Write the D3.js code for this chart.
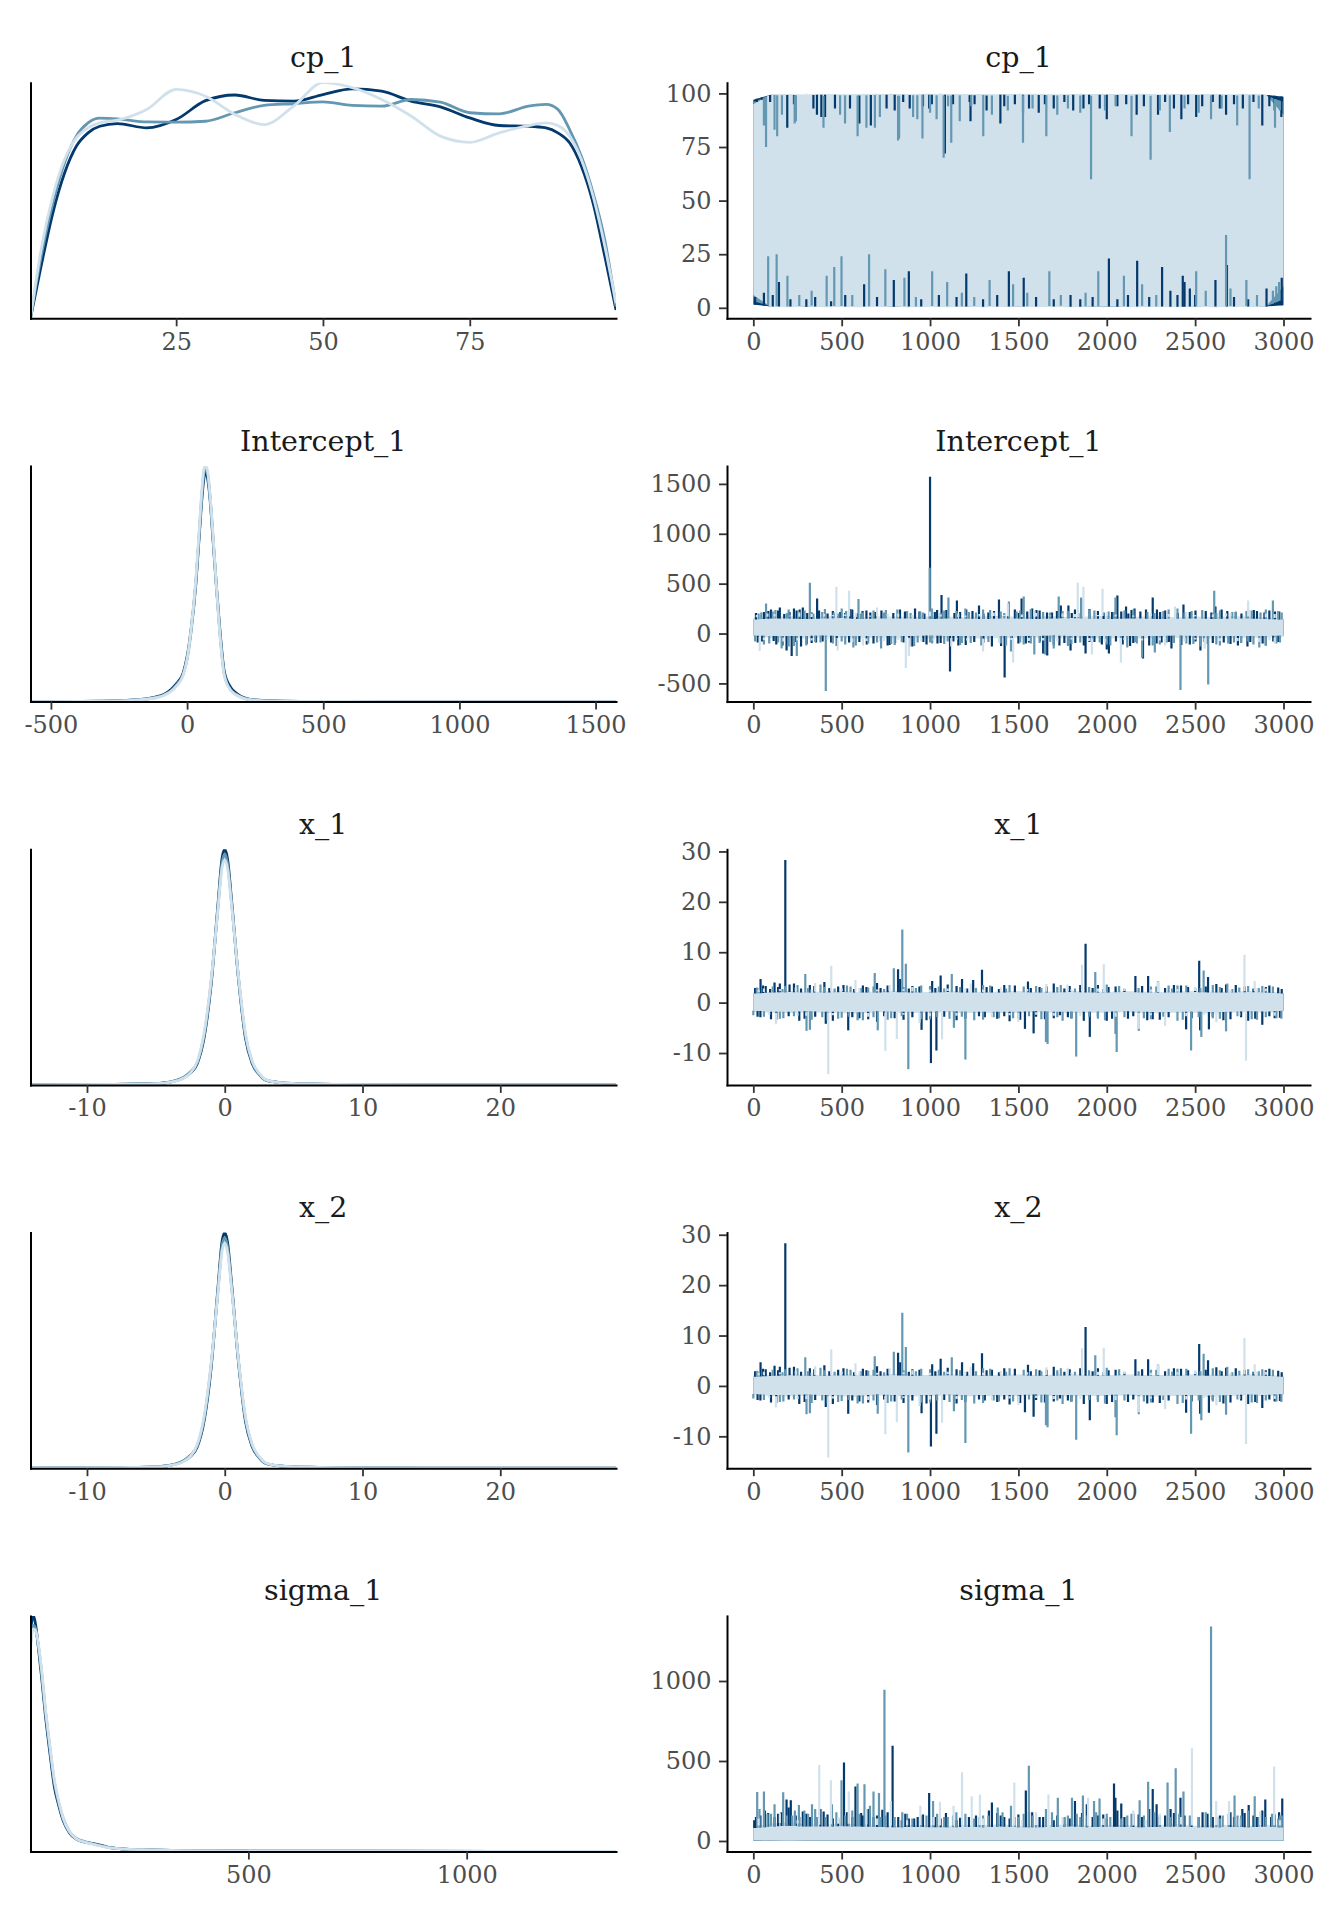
<!DOCTYPE html>
<html>
<head>
<meta charset="utf-8">
<script src="https://cdn.jsdelivr.net/npm/d3@7"></script>
<style>
  body { margin: 0; background: #ffffff; }
  svg { display: block; }
  text { font-family: 'DejaVu Serif', serif; }
</style>
</head>
<body>
<svg id="chart" width="1344" height="1920"></svg>
<script>
// ---------------- DATA ----------------
const params = ["cp_1", "Intercept_1", "x_1", "x_2", "sigma_1"];
const chainNames = ["chain 1", "chain 2", "chain 3"];

// iteration grid for the trace envelopes
const iters = [0,100,200,300,400,500,600,700,800,900,1000,1100,1200,1300,1400,1500,1600,1700,1800,1900,2000,2100,2200,2300,2400,2500,2600,2700,2800,2900,3000];
const traceTicksX = [0, 500, 1000, 1500, 2000, 2500, 3000];

// density tick labels
const densTicks_cp1 = [25, 50, 75];
const densTicks_int = [-500, 0, 500, 1000, 1500];
const densTicks_x = [-10, 0, 10, 20];
const densTicks_sigma = [500, 1000];
// trace y tick labels
const traceTicks_cp1 = [0, 25, 50, 75, 100];
const traceTicks_int = [-500, 0, 500, 1000, 1500];
const traceTicks_x = [-10, 0, 10, 20, 30];
const traceTicks_sigma = [0, 500, 1000];

// ---- densities (relative density, per chain: dark, mid, light) ----
const cp1Grid = [0.2,2,4,6,8,10,12,15,20,25,30,35,40,45,50,55,60,65,70,75,80,85,88,90,92,94,96,98,99.9];
const cp1DensDark  = [0,0.22,0.445,0.614,0.727,0.784,0.812,0.823,0.805,0.84,0.92,0.944,0.921,0.918,0.946,0.970,0.960,0.918,0.894,0.847,0.815,0.812,0.805,0.784,0.742,0.643,0.487,0.261,0.035];
const cp1DensMid   = [0,0.26,0.487,0.657,0.77,0.826,0.846,0.843,0.830,0.829,0.833,0.869,0.9,0.907,0.915,0.9,0.897,0.925,0.914,0.869,0.864,0.897,0.904,0.883,0.798,0.685,0.53,0.33,0.05];
const cp1DensLight = [0,0.29,0.516,0.671,0.763,0.805,0.826,0.838,0.883,0.968,0.939,0.862,0.819,0.897,0.996,0.975,0.925,0.855,0.770,0.744,0.784,0.815,0.826,0.815,0.770,0.671,0.516,0.304,0.064];

const intGrid = [-575,-400,-250,-150,-100,-86,-60,-40,-15,0,15,32,45,55,62,68,75,85,95,107,120,137,160,181,210,250,320,450,700,1575];
const intDensDark  = [0,0.001,0.004,0.012,0.024,0.03,0.05,0.075,0.12,0.19,0.31,0.5,0.71,0.87,0.95,0.975,0.95,0.85,0.69,0.5,0.31,0.125,0.06,0.035,0.016,0.007,0.003,0.001,0.0004,0];
const intDensMid   = [0,0.001,0.004,0.011,0.022,0.028,0.045,0.07,0.114,0.18,0.30,0.5,0.72,0.89,0.97,0.99,0.97,0.86,0.70,0.5,0.30,0.114,0.05,0.03,0.014,0.006,0.003,0.001,0.0004,0];
const intDensLight = [0,0.001,0.003,0.01,0.02,0.026,0.042,0.065,0.11,0.18,0.31,0.52,0.74,0.91,0.99,1.0,0.98,0.87,0.71,0.5,0.29,0.11,0.048,0.028,0.013,0.006,0.002,0.001,0.0003,0];

const xGrid = [-14.1,-8,-5,-4,-3,-2.5,-2,-1.5,-1,-0.5,-0.2,0,0.2,0.5,1,1.5,2,2.5,3,4,6,10,15,28.4];
const xDensDark  = [0,0.002,0.006,0.012,0.03,0.05,0.09,0.2,0.42,0.76,0.96,1.0,0.96,0.78,0.45,0.2,0.09,0.045,0.02,0.01,0.004,0.001,0.0005,0];
const xDensMid   = [0,0.002,0.006,0.012,0.032,0.055,0.095,0.21,0.43,0.75,0.94,0.98,0.94,0.77,0.45,0.21,0.095,0.045,0.02,0.01,0.004,0.001,0.0005,0];
const xDensLight = [0,0.002,0.005,0.011,0.028,0.05,0.1,0.22,0.44,0.74,0.92,0.955,0.92,0.76,0.46,0.22,0.1,0.05,0.022,0.01,0.004,0.001,0.0005,0];

const sGrid = [1,5,8,12,20,27,35,42,50,56,65,76,90,105,125,145,165,184,220,273,350,500,800,1342];
const sDensDark  = [0.93,0.99,1.0,0.97,0.85,0.73,0.58,0.47,0.35,0.27,0.2,0.13,0.08,0.054,0.04,0.033,0.025,0.016,0.01,0.007,0.004,0.002,0.001,0.0005];
const sDensMid   = [0.88,0.95,0.96,0.95,0.86,0.75,0.6,0.49,0.37,0.29,0.21,0.14,0.085,0.057,0.042,0.032,0.024,0.016,0.01,0.007,0.004,0.002,0.001,0.0005];
const sDensLight = [0.86,0.93,0.945,0.94,0.87,0.76,0.61,0.5,0.38,0.3,0.22,0.14,0.085,0.055,0.04,0.03,0.022,0.015,0.01,0.007,0.004,0.002,0.001,0.0005];

// ---- traces: per-chain core envelope (hi / lo every 100 iterations) + excursions [iteration, value] ----
// cp_1
const cpDarkHi  = [97,99.4,99.3,99.2,99.4,99.3,99.0,99.4,99.4,99.3,99.4,99.4,99.2,99.0,99.4,99.4,99.3,99.1,99.4,99.4,99.4,99.2,99.4,99.3,99.4,99.3,99.4,99.2,99.4,99.3,98.5];
const cpDarkLo  = [1.5,0.6,0.6,0.5,0.8,0.6,0.6,0.7,0.5,0.6,0.6,0.6,0.6,0.5,0.7,0.6,0.6,0.6,0.5,0.6,0.6,0.5,0.6,0.6,0.5,0.6,0.6,0.6,0.6,0.6,1.2];
const cpMidHi   = [96,99.3,99.0,99.3,98.8,99.2,99.0,99.3,98.9,99.1,99.3,99.0,99.2,99.3,98.8,99.1,99.3,99.0,99.2,98.9,99.3,99.1,98.7,99.2,99.0,99.3,99.1,98.9,99.2,99.0,96];
const cpMidLo   = [3,0.8,0.6,1.0,0.7,0.9,0.6,0.8,1.0,0.6,0.9,0.7,0.8,1.0,0.6,0.8,0.7,0.9,1.0,0.6,0.8,0.7,0.9,0.6,0.8,1.0,0.7,0.9,0.8,0.6,4];
const cpLightHi = [95,99.6,99.7,99.5,99.7,99.6,99.7,99.8,99.5,99.7,99.8,99.6,99.7,99.7,99.5,99.7,99.8,99.6,99.7,99.7,99.6,99.7,99.8,99.6,99.5,99.7,99.7,99.6,99.7,99.6,90];
const cpLightLo = [6,0.4,0.3,0.5,0.3,0.4,0.3,0.4,0.5,0.3,0.4,0.3,0.5,0.3,0.4,0.5,0.3,0.4,0.3,0.5,0.6,0.4,0.3,0.4,0.3,0.5,0.3,0.4,0.4,0.5,10];
const cpDarkSp  = [[20,96],[48,97],[95,96],[192,84],[230,95],[340,93],[360,90],[385,89],[406,89],[462,93],[547,93],[600,86],[665,85],[754,93],[800,92],[848,96],[885,93],[960,94],[995,93],[1010,95],[1084,72],[1130,95],[1224,96],[1229,87],[1252,95],[1320,92],[1398,86],[1420,94],[1480,95],[1526,91],[1560,93],[1615,91],[1650,95],[1700,93],[1760,96],[1810,92],[1868,93],[1900,95],[1960,93],[2000,88],[2060,94],[2110,95],[2169,90],[2210,94],[2290,90],[2330,96],[2380,93],[2422,88],[2460,95],[2506,89],[2540,94],[2600,96],[2640,93],[2675,90],[2720,95],[2770,93],[2830,96],[2880,85],[2920,94],[2950,92],[2988,89],
  [10,5],[60,7],[110,6],[145,12],[210,4],[300,4],[350,5],[440,3],[520,6],[627,11],[700,5],[795,13],[880,17],[950,4],[1050,6],[1150,5],[1205,16],[1300,4],[1380,6],[1446,17],[1530,14],[1600,5],[1700,4],[1795,6],[1850,4],[1920,5],[2012,23],[2060,4],[2120,6],[2172,22],[2240,5],[2313,19],[2360,8],[2400,6],[2430,15],[2440,12],[2470,9],[2500,6],[2615,13],[2680,20],[2720,5],[2800,4],[2904,9],[2990,14]];
const cpMidSp   = [[60,85],[72,75],[120,83],[135,80],[162,90],[234,86],[241,87],[397,84],[491,90],[519,86],[590,80],[640,84],[688,84],[716,89],[819,78],[825,79],[904,89],[928,88],[957,79],[1000,91],[1037,88],[1077,70],[1102,94],[1120,77],[1168,87],[1233,94],[1301,80],[1350,90],[1440,92],[1526,77],[1580,93],[1658,80],[1720,90],[1780,93],[1850,91],[1911,60],[1990,92],[2050,94],[2140,80],[2248,69],[2300,92],[2357,82],[2440,93],[2520,91],[2590,88],[2650,93],[2738,85],[2808,60],[2860,93],[2952,84],[2980,92],
  [84,24],[132,25],[193,15],[260,6],[330,8],[415,15],[458,19],[499,24],[560,6],[655,25],[747,18],[855,14],[920,5],[1012,17],[1097,12],[1180,7],[1250,5],[1337,13],[1470,11],[1550,7],[1675,17],[1740,6],[1880,7],[1952,17],[2097,15],[2200,11],[2280,6],[2506,17],[2560,8],[2675,34],[2700,9],[2790,13],[2850,6],[2940,8],[2959,10],[2975,12]];
const cpLightSp = [[300,100],[780,99.9],[1060,100],[1510,99.9],[1850,100],[2340,99.9],[2770,100],[410,0.1],[870,0.2],[1300,0.1],[1980,0.2],[2620,0.1]];

// Intercept_1
const intDarkHi  = [140,150,150,145,150,155,145,150,150,150,145,150,150,145,150,150,145,150,155,150,145,150,150,145,150,150,145,150,150,145,140];
const intDarkLo  = [-20,-25,-25,-25,-20,-25,-25,-25,-25,-25,-20,-25,-25,-25,-25,-25,-25,-20,-25,-25,-25,-25,-25,-25,-20,-25,-25,-25,-25,-25,-20];
const intMidHi   = [140,150,150,145,150,155,145,150,150,150,145,150,150,145,150,150,145,150,155,150,145,150,150,145,150,150,145,150,150,145,140];
const intMidLo   = [-20,-25,-25,-25,-20,-25,-25,-25,-25,-25,-20,-25,-25,-25,-25,-25,-25,-20,-25,-25,-25,-25,-25,-25,-20,-25,-25,-25,-25,-25,-20];
const intLightHi = [160,170,172,165,170,178,162,172,170,165,174,170,162,172,178,165,170,174,162,170,178,165,170,174,162,170,165,174,170,162,150];
const intLightLo = [-30,-45,-42,-50,-40,-46,-52,-42,-46,-40,-50,-43,-46,-52,-43,-46,-40,-50,-43,-46,-52,-43,-50,-40,-46,-43,-50,-46,-43,-46,-35];
const intDarkSp  = [[100,240],[150,260],[188,-170],[217,-225],[245,230],[355,-90],[361,350],[560,240],[771,-115],[900,-130],[1000,1572],[1065,385],[1113,-380],[1152,330],[1277,280],[1390,340],[1422,-440],[1518,350],[1578,250],[1640,-200],[1663,-220],[1740,280],[1783,280],[1795,-170],[1855,350],[1880,-200],[2000,-160],[2012,-200],[2060,380],[2109,270],[2157,250],[2205,-250],[2260,360],[2284,240],[2366,-150],[2434,290],[2530,-170],[2615,270],[2796,-130],[2976,220],
  [60,215],[140,230],[230,250],[280,260],[330,210],[450,225],[520,205],[640,230],[690,215],[830,240],[940,220],[1040,235],[1170,215],[1240,225],[1330,210],[1480,240],[1550,220],[1620,230],[1690,210],[1820,240],[1950,225],[2030,215],[2140,235],[2190,220],[2330,230],[2470,215],[2560,225],[2650,240],[2730,215],[2850,225],[2920,230],
  [50,-80],[130,-110],[270,-130],[330,-95],[440,-90],[600,-85],[680,-100],[760,-120],[850,-90],[980,-110],[1060,-95],[1160,-120],[1250,-85],[1350,-130],[1500,-100],[1560,-90],[1700,-115],[1760,-95],[1870,-120],[1930,-85],[2090,-110],[2150,-95],[2240,-120],[2310,-90],[2470,-110],[2600,-95],[2700,-105],[2760,-90],[2900,-120],[2970,-85],
  [15,205],[85,225],[175,195],[205,215],[262,240],[305,205],[372,230],[420,200],[492,215],[548,245],[588,200],[618,225],[662,210],[725,230],[792,205],[858,220],[915,250],[968,200],[1027,215],[1092,235],[1138,205],[1205,240],[1302,200],[1362,225],[1442,215],[1503,205],[1602,235],[1662,210],[1718,225],[1802,205],[1902,245],[1982,210],[2082,220],[2122,200],[2222,240],[2302,215],[2402,205],[2502,230],[2592,210],[2682,225],[2762,200],[2832,235],[2892,210],[2952,220],
  [25,-90],[115,-75],[165,-120],[240,-85],[302,-105],[392,-80],[472,-125],[542,-90],[642,-110],[722,-80],[802,-95],[882,-130],[962,-85],[1042,-100],[1132,-80],[1202,-115],[1302,-90],[1402,-125],[1462,-85],[1542,-100],[1622,-80],[1732,-120],[1822,-95],[1902,-85],[1972,-110],[2052,-80],[2132,-125],[2202,-90],[2282,-100],[2352,-85],[2422,-115],[2502,-80],[2572,-105],[2662,-90],[2742,-120],[2812,-85],[2882,-100],[2942,-80]];
const intMidSp   = [[72,300],[160,-150],[246,-225],[320,510],[410,-575],[480,200],[566,-140],[595,345],[723,-150],[998,660],[1012,-100],[1104,360],[1200,250],[1446,320],[1458,-180],[1530,370],[1590,-210],[1650,-210],[1700,-150],[1728,370],[1855,360],[2049,360],[2116,-140],[2200,-240],[2272,-190],[2400,250],[2417,-565],[2530,-130],[2574,-510],[2608,430],[2687,-100],[2820,230],[2863,-140],[2940,330],
  [30,200],[110,220],[200,240],[290,230],[390,215],[500,250],[620,210],[750,235],[870,225],[960,210],[1080,230],[1220,215],[1300,240],[1400,220],[1510,230],[1640,215],[1780,225],[1900,240],[2010,220],[2100,230],[2230,215],[2350,240],[2480,225],[2640,230],[2710,215],[2790,225],[2900,240],[2990,210],
  [90,-100],[200,-130],[300,-120],[380,-90],[520,-110],[650,-100],[800,-115],[930,-90],[1080,-105],[1180,-95],[1290,-120],[1400,-100],[1530,-110],[1620,-95],[1800,-105],[1960,-90],[2020,-120],[2170,-100],[2300,-110],[2380,-95],[2490,-105],[2640,-120],[2760,-95],[2830,-110],[2960,-100],
  [45,210],[125,235],[190,205],[255,220],[340,200],[405,245],[455,210],[525,225],[610,200],[680,230],[740,210],[815,240],[890,205],[945,220],[1010,250],[1060,205],[1150,225],[1260,210],[1340,235],[1420,205],[1490,220],[1570,245],[1680,210],[1750,225],[1840,205],[1930,230],[2040,215],[2150,240],[2270,205],[2320,225],[2440,210],[2540,235],[2620,205],[2730,220],[2800,240],[2870,210],[2970,225],
  [10,-80],[60,-110],[140,-90],[230,-125],[350,-85],[450,-100],[500,-80],[580,-120],[700,-90],[780,-105],[840,-85],[910,-125],[1000,-90],[1100,-80],[1170,-115],[1230,-95],[1330,-85],[1430,-120],[1510,-90],[1570,-100],[1680,-85],[1780,-125],[1850,-90],[1920,-80],[2000,-110],[2080,-95],[2160,-85],[2260,-120],[2340,-90],[2450,-100],[2550,-85],[2620,-110],[2720,-90],[2800,-80],[2900,-115],[2980,-90]];
const intLightSp = [[36,-175],[470,470],[477,-170],[542,430],[620,-120],[700,260],[863,-345],[880,-225],[1120,-130],[1300,-180],[1440,300],[1470,-290],[1590,230],[1836,510],[1868,470],[1916,-210],[1976,450],[2080,-290],[2330,-120],[2386,270],[2554,-150],[2675,200],[2800,330],[2950,-100],
  [80,200],[260,210],[400,195],[580,205],[820,200],[1000,220],[1160,200],[1360,210],[1600,205],[1750,200],[2000,210],[2250,200],[2450,215],[2700,205],[2900,200],
  [170,-80],[330,-70],[560,-85],[740,-75],[950,-80],[1210,-70],[1390,-90],[1560,-75],[1720,-80],[1990,-85],[2200,-70],[2440,-80],[2640,-75],[2860,-85],
  [20,185],[120,195],[210,180],[330,200],[450,185],[520,190],[660,180],[760,195],[900,185],[1060,190],[1200,180],[1280,195],[1420,185],[1520,190],[1680,180],[1820,195],[1950,185],[2050,190],[2150,180],[2350,195],[2500,185],[2600,190],[2780,180],[2950,195],
  [60,-65],[250,-70],[420,-60],[640,-75],[820,-65],[1020,-70],[1150,-60],[1300,-75],[1460,-65],[1640,-70],[1800,-60],[1900,-75],[2100,-65],[2300,-70],[2500,-60],[2740,-75],[2920,-65]];

// x_1
const xDarkHi  = [1.8,2.0,2.1,2.0,2.0,2.1,2.0,2.0,2.1,2.0,2.0,2.1,2.0,2.0,2.0,2.1,2.0,2.0,2.1,2.0,2.0,2.1,2.0,2.0,2.0,2.1,2.0,2.0,2.1,2.0,1.8];
const xDarkLo  = [-1.6,-1.8,-1.8,-1.7,-1.8,-1.8,-1.9,-1.7,-1.8,-1.8,-1.8,-1.7,-1.8,-1.8,-1.8,-1.8,-1.7,-1.8,-1.8,-1.8,-1.8,-1.7,-1.8,-1.9,-1.8,-1.8,-1.9,-1.8,-1.7,-1.8,-1.6];
const xMidHi   = xDarkHi.map(v => v);
const xMidLo   = xDarkLo.map(v => v);
const xLightHi = [2.0,2.2,2.3,2.1,2.2,2.3,2.1,2.2,2.4,2.2,2.1,2.3,2.2,2.1,2.2,2.3,2.1,2.2,2.3,2.2,2.1,2.3,2.2,2.1,2.2,2.3,2.2,2.1,2.3,2.2,2.0];
const xLightLo = [-1.8,-2.0,-2.1,-1.9,-2.0,-2.1,-2.2,-1.9,-2.0,-2.1,-2.0,-1.9,-2.1,-2.0,-2.1,-2.0,-1.9,-2.0,-2.1,-2.0,-2.0,-1.9,-2.1,-2.1,-2.0,-2.0,-2.2,-2.0,-1.9,-2.0,-1.8];
const xDarkSp  = [[24,-2.8],[41,4.7],[120,4.0],[150,3.8],[181,28.3],[402,4.1],[410,-4.2],[537,-5.5],[819,6.6],[831,4.7],[952,-5.4],[1005,-12],[1012,4.3],[1036,-9.5],[1060,5.4],[1181,4.7],[1244,4.5],[1277,-2.7],[1294,6.5],[1537,-5.2],[1554,4.2],[1586,-6.1],[1735,-2.5],[1880,11.7],[1904,-6.8],[2162,5.3],[2229,-3.5],[2234,5.3],[2290,4.2],[2449,-5.3],[2523,8.3],[2528,-5.5],[2573,5.1],[2578,-5.3],[2675,3.6],[2880,-4.4],
  [70,3.3],[230,3.8],[320,3.5],[480,3.2],[620,3.4],[700,3.9],[900,3.3],[1100,3.6],[1350,3.2],[1420,3.5],[1620,3.1],[1700,3.8],[1790,3.3],[1950,3.5],[2050,3.2],[2380,3.5],[2460,3.1],[2620,3.7],[2780,3.2],[2920,3.4],[2970,3.0],
  [100,-3.3],[260,-3.6],[600,-3.1],[700,-3.8],[850,-3.4],[1150,-3.5],[1380,-3.2],[1450,-3.7],[1650,-3.3],[1800,-3.1],[2000,-3.6],[2120,-3.2],[2300,-3.4],[2700,-3.3],[2800,-3.6],[2950,-3.1],
  [10,2.9],[55,3.4],[95,2.7],[140,3.1],[205,3.6],[270,2.8],[345,3.3],[430,2.9],[510,3.5],[570,2.7],[640,3.1],[720,2.9],[760,3.4],[880,2.8],[940,3.2],[1030,2.9],[1150,3.3],[1210,2.8],[1320,3.1],[1390,2.7],[1480,3.4],[1570,2.9],[1660,3.2],[1760,2.8],[1850,3.5],[1920,2.9],[2010,3.1],[2100,2.7],[2200,3.3],[2330,2.9],[2420,3.4],[2500,2.8],[2560,3.2],[2650,2.9],[2730,3.5],[2830,2.8],[2900,3.1],[2990,2.7],
  [40,-2.9],[130,-3.4],[200,-2.7],[290,-3.2],[350,-2.8],[450,-3.6],[560,-2.9],[650,-3.3],[740,-2.7],[800,-3.1],[900,-2.9],[980,-3.5],[1080,-2.8],[1200,-3.2],[1310,-2.9],[1420,-2.7],[1510,-3.4],[1600,-2.8],[1700,-3.1],[1780,-2.9],[1870,-3.6],[1950,-2.8],[2030,-3.2],[2150,-2.7],[2260,-3.3],[2350,-2.9],[2480,-3.1],[2600,-2.8],[2660,-3.5],[2760,-2.9],[2840,-3.2],[2920,-2.7],[2980,-3.0]];
const xMidSp   = [[0,-2.5],[294,5.7],[301,-5.6],[320,-5.4],[590,-3.5],[687,5.9],[704,-5.5],[795,6.8],[843,14.5],[863,7.7],[877,-13.2],[1123,5.7],[1135,-5],[1200,-11.3],[1390,-3.1],[1450,3.5],[1656,-7.8],[1665,-8.2],[1827,-10.7],[1935,6.1],[2049,-6.2],[2056,-9.8],[2181,-5.6],[2400,3.4],[2477,-9.5],[2535,-6.8],[2548,6.4],[2675,-5.7],[2682,3.8],[2988,-3.2],
  [20,3.0],[180,3.3],[380,3.6],[550,3.2],[650,3.0],[950,3.4],[1050,3.2],[1300,3.5],[1600,3.3],[1720,3.1],[2000,3.6],[2250,3.2],[2350,3.4],[2600,3.5],[2750,3.0],[2880,3.3],
  [150,-3.2],[420,-3.5],[500,-3.0],[760,-3.4],[1000,-3.3],[1250,-3.5],[1500,-3.1],[1750,-3.6],[1950,-3.2],[2250,-3.3],[2400,-3.6],[2600,-3.1],[2850,-3.4],
  [30,2.8],[110,3.2],[165,2.7],[250,3.5],[310,2.9],[400,3.1],[460,2.8],[530,3.4],[610,2.9],[680,3.2],[740,2.7],[850,3.1],[920,2.9],[1000,3.3],[1080,2.8],[1170,3.1],[1260,2.9],[1340,3.4],[1430,2.8],[1530,3.2],[1630,2.9],[1740,3.5],[1820,2.8],[1900,3.1],[1980,2.7],[2070,3.3],[2180,2.9],[2280,3.2],[2370,2.8],[2450,3.4],[2530,2.9],[2640,3.1],[2710,2.7],[2800,3.3],[2860,2.9],[2940,3.2],
  [60,-2.8],[170,-3.1],[230,-2.7],[330,-3.4],[390,-2.9],[480,-3.2],[540,-2.8],[620,-3.5],[680,-2.9],[780,-3.1],[840,-2.7],[950,-3.3],[1040,-2.9],[1110,-3.2],[1180,-2.8],[1300,-3.4],[1360,-2.9],[1470,-3.1],[1560,-2.7],[1630,-3.3],[1720,-2.9],[1800,-3.2],[1900,-2.8],[1990,-3.5],[2100,-2.9],[2210,-3.1],[2320,-2.8],[2430,-3.4],[2520,-2.9],[2640,-3.2],[2740,-2.7],[2820,-3.3],[2900,-2.9],[2960,-3.1]];
const xLightSp = [[128,-4.3],[350,3.9],[424,-14.2],[441,7.3],[578,4.5],[747,-9.6],[771,3.5],[812,-7.2],[940,-4],[1068,-7.3],[1230,3.8],[1500,-3.8],[1658,3.7],[1778,3.6],[1860,7.5],[1983,7.6],[2181,-5.2],[2290,4.2],[2330,-4.6],[2620,-3.9],[2779,9.5],[2788,-11.5],[2837,4.3],
  [60,2.8],[240,3.0],[600,2.9],[900,3.1],[1100,2.8],[1400,3.0],[2100,2.9],[2500,3.1],[2900,2.8],
  [300,-2.6],[650,-2.8],[1000,-2.7],[1350,-2.9],[1700,-2.6],[2050,-2.8],[2450,-2.7],[2950,-2.6],
  [30,2.6],[150,2.7],[330,2.6],[500,2.8],[700,2.6],[850,2.7],[1000,2.6],[1200,2.8],[1300,2.6],[1550,2.7],[1800,2.6],[1950,2.8],[2250,2.6],[2400,2.7],[2700,2.6],[2850,2.8],
  [90,-2.4],[250,-2.6],[450,-2.5],[850,-2.4],[1150,-2.6],[1450,-2.5],[1600,-2.4],[1850,-2.6],[2250,-2.5],[2550,-2.4],[2750,-2.6]];

// x_2 reads identically to x_1 in the picture
const x2DensDark = xDensDark, x2DensMid = xDensMid, x2DensLight = xDensLight;
const x2DarkHi = xDarkHi, x2DarkLo = xDarkLo, x2MidHi = xMidHi, x2MidLo = xMidLo, x2LightHi = xLightHi, x2LightLo = xLightLo;
const x2DarkSp = xDarkSp, x2MidSp = xMidSp, x2LightSp = xLightSp;

// sigma_1
const sDarkHi  = [80,90,95,90,90,92,90,88,85,88,86,85,88,86,90,86,85,88,90,86,90,88,86,88,90,86,85,88,86,90,85];
const sDarkLo  = [3,1.5,1.2,1.8,1.3,1.5,1.6,1.2,1.4,1.3,1.5,1.4,1.2,1.6,1.3,1.5,1.4,1.2,1.5,1.3,1.6,1.4,1.2,1.5,1.3,1.4,1.6,1.2,1.5,1.3,2];
const sMidHi   = sDarkHi.map(v => v);
const sMidLo   = sDarkLo.map(v => v);
const sLightHi = [90,110,115,105,100,110,105,100,95,100,100,95,100,100,105,95,100,100,105,95,100,100,95,100,105,95,100,100,95,100,95];
const sLightLo = [4,2.5,2.2,2.8,2.4,2.6,2.3,2.5,2.7,2.4,2.6,2.3,2.5,2.8,2.4,2.6,2.3,2.5,2.7,2.4,2.6,2.3,2.5,2.8,2.4,2.6,2.3,2.5,2.7,2.4,3];
const sDarkSp  = [[5,130],[84,175],[120,150],[188,260],[212,255],[398,185],[513,490],[578,340],[730,195],[788,595],[880,140],[995,300],[1333,190],[1350,240],[1542,315],[1578,180],[1820,250],[1887,230],[2041,360],[2049,270],[2082,235],[2260,325],[2282,230],[2361,200],[2417,270],[2542,180],[2767,200],[2803,225],[2897,260],[2993,265],
  [40,160],[160,180],[260,150],[300,170],[450,140],[620,160],[680,150],[840,130],[930,150],[1060,140],[1150,130],[1220,150],[1400,160],[1450,140],[1620,150],[1700,130],[1760,150],[1950,160],[2000,140],[2150,170],[2200,150],[2330,160],[2480,140],[2600,150],[2700,180],[2850,150],[2950,160],
  [15,150],[65,190],[140,170],[200,210],[240,160],[280,185],[320,150],[380,200],[420,165],[480,140],[530,180],[560,150],[610,175],[650,200],[700,160],[760,180],[820,150],[860,170],[910,140],[960,165],[1030,150],[1090,175],[1170,145],[1260,160],[1300,140],[1380,175],[1420,150],[1500,165],[1560,185],[1640,150],[1720,160],[1790,140],[1860,175],[1920,150],[1980,165],[2060,190],[2100,150],[2180,165],[2240,200],[2300,150],[2380,175],[2440,160],[2520,150],[2570,170],[2640,160],[2720,150],[2780,175],[2830,160],[2880,190],[2930,150],[2975,180]];
const sMidSp   = [[22,306],[60,310],[169,305],[258,225],[289,190],[332,230],[470,180],[499,380],[590,360],[629,355],[680,310],[711,300],[742,945],[843,180],[1017,250],[1149,180],[1383,210],[1458,220],[1559,470],[1656,200],[1723,270],[1803,270],[1865,285],[1928,250],[1959,265],[2116,160],[2186,255],[2234,370],[2344,365],[2390,455],[2434,310],[2590,1340],[2656,160],[2723,285],[2837,280],[2935,170],[2981,160],
  [100,170],[220,160],[360,150],[540,170],[720,150],[900,140],[980,160],[1100,150],[1250,140],[1300,160],[1500,150],[1600,140],[1780,160],[1850,150],[2000,170],[2080,140],[2300,160],[2520,150],[2640,140],[2760,160],[2900,150],[2970,140],
  [35,200],[80,170],[120,230],[190,160],[235,190],[310,170],[350,200],[410,150],[445,230],[520,160],[560,190],[600,170],[660,220],[750,160],[800,150],[870,170],[950,160],[1040,170],[1080,150],[1130,160],[1200,170],[1280,150],[1330,160],[1410,180],[1480,150],[1530,170],[1580,160],[1690,180],[1760,150],[1830,170],[1890,160],[1940,180],[2020,150],[2140,170],[2210,160],[2270,180],[2360,150],[2410,170],[2470,160],[2560,180],[2620,150],[2690,170],[2740,160],[2800,190],[2860,150],[2950,170],[2990,160]];
const sLightSp = [[150,170],[373,475],[439,380],[540,310],[640,200],[778,250],[945,220],[1056,245],[1133,220],[1181,430],[1236,280],[1282,290],[1477,365],[1600,180],[1670,290],[1894,270],[2150,190],[2300,170],[2482,580],[2619,250],[2692,250],[2868,185],[2947,465],
  [30,140],[250,130],[480,150],[700,140],[870,130],[1020,150],[1300,140],[1520,130],[1750,150],[1980,140],[2220,130],[2420,150],[2750,140],[2980,130]];

// ---------------- STYLE / LAYOUT ----------------
const chainColors = ["#03396c", "#6497b1", "#d1e1ec"];
const leftRange = [30.5, 616];
const rightRange = [727, 1310];
const rowTop0 = 82.7, rowStep = 383.3, plotH = 235.6;
const titleSize = 28.5, tickSize = 24;
const spikeWidth = 2.2;

const rows = [
  { grid: cp1Grid, dens: [cp1DensDark, cp1DensMid, cp1DensLight], dTicks: densTicks_cp1, tTicks: traceTicks_cp1,
    hi: [cpDarkHi, cpMidHi, cpLightHi], lo: [cpDarkLo, cpMidLo, cpLightLo], sp: [cpDarkSp, cpMidSp, cpLightSp] },
  { grid: intGrid, dens: [intDensDark, intDensMid, intDensLight], dTicks: densTicks_int, tTicks: traceTicks_int,
    hi: [intDarkHi, intMidHi, intLightHi], lo: [intDarkLo, intMidLo, intLightLo], sp: [intDarkSp, intMidSp, intLightSp] },
  { grid: xGrid, dens: [xDensDark, xDensMid, xDensLight], dTicks: densTicks_x, tTicks: traceTicks_x,
    hi: [xDarkHi, xMidHi, xLightHi], lo: [xDarkLo, xMidLo, xLightLo], sp: [xDarkSp, xMidSp, xLightSp] },
  { grid: xGrid, dens: [x2DensDark, x2DensMid, x2DensLight], dTicks: densTicks_x, tTicks: traceTicks_x,
    hi: [x2DarkHi, x2MidHi, x2LightHi], lo: [x2DarkLo, x2MidLo, x2LightLo], sp: [x2DarkSp, x2MidSp, x2LightSp] },
  { grid: sGrid, dens: [sDensDark, sDensMid, sDensLight], dTicks: densTicks_sigma, tTicks: traceTicks_sigma,
    hi: [sDarkHi, sMidHi, sLightHi], lo: [sDarkLo, sMidLo, sLightLo], sp: [sDarkSp, sMidSp, sLightSp] }
];

const fmt = d => String(d);
const svg = d3.select("#chart");
const defs = svg.append("defs");

function styleAxis(g) {
  g.select(".domain").attr("stroke", "#000").attr("stroke-width", 2).attr("stroke-linecap", "square");
  g.selectAll(".tick line").attr("stroke", "#333").attr("stroke-width", 1.8);
  g.selectAll(".tick text").attr("fill", "#4d4d4d").style("font-size", tickSize + "px")
    .style("font-family", "'DejaVu Serif', serif");
}

rows.forEach((r, i) => {
  const top = rowTop0 + i * rowStep;
  const bottom = top + plotH;

  // ---------- density panel ----------
  const xD = d3.scaleLinear().domain(d3.extent(r.grid)).range(leftRange);
  const yD = d3.scaleLinear().domain([0, d3.max(r.dens.flat())]).range([bottom, top]);
  const clipD = "clipD" + i;
  defs.append("clipPath").attr("id", clipD).append("rect")
    .attr("x", leftRange[0]).attr("y", top).attr("width", leftRange[1] - leftRange[0]).attr("height", plotH);
  const gD = svg.append("g");
  const line = d3.line().x(d => xD(d[0])).y(d => yD(d[1])).curve(d3.curveMonotoneX);
  const gDc = gD.append("g").attr("clip-path", `url(#${clipD})`);
  r.dens.forEach((vals, c) => {
    gDc.append("path")
      .datum(r.grid.map((g, k) => [g, vals[k]]))
      .attr("d", line)
      .attr("fill", "none")
      .attr("stroke", chainColors[c])
      .attr("stroke-width", 2.8)
      .attr("stroke-linejoin", "round");
  });
  const axDx = gD.append("g").attr("transform", `translate(0,${bottom})`)
    .call(d3.axisBottom(xD).tickValues(r.dTicks).tickSize(8).tickPadding(6.5).tickSizeOuter(0).tickFormat(fmt));
  styleAxis(axDx);
  const axDy = gD.append("g").attr("transform", `translate(${leftRange[0]},0)`)
    .call(d3.axisLeft(yD).tickValues([]).tickSizeOuter(0));
  styleAxis(axDy);
  gD.append("text").attr("x", (leftRange[0] + leftRange[1]) / 2).attr("y", top - 15.5)
    .attr("text-anchor", "middle").attr("fill", "#1a1a1a").style("font-size", titleSize + "px")
    .text(params[i]);

  // ---------- trace panel ----------
  const xT = d3.scaleLinear().domain([1, 3000]).range(rightRange);
  const [x0, x1] = xT.domain();
  const xpad = (x1 - x0) * 0.05;
  xT.domain([x0 - xpad, x1 + xpad]);
  const allVals = r.hi.flat().concat(r.lo.flat(), r.sp.flat().map(d => d[1]));
  const [v0, v1] = d3.extent(allVals);
  const ypad = (v1 - v0) * 0.05;
  const yT = d3.scaleLinear().domain([v0 - ypad, v1 + ypad]).range([bottom, top]);
  const clipT = "clipT" + i;
  defs.append("clipPath").attr("id", clipT).append("rect")
    .attr("x", rightRange[0]).attr("y", top).attr("width", rightRange[1] - rightRange[0]).attr("height", plotH);
  const gT = svg.append("g");
  const gTc = gT.append("g").attr("clip-path", `url(#${clipT})`);
  const area = d3.area().x(d => xT(d[0])).y0(d => yT(d[1])).y1(d => yT(d[2]));
  // core envelopes, chain order dark -> mid -> light
  r.hi.forEach((hi, c) => {
    gTc.append("path")
      .datum(iters.map((it, k) => [it, r.lo[c][k], hi[k]]))
      .attr("d", area)
      .attr("fill", chainColors[c]);
  });
  // excursions, drawn from the chain's own envelope edge
  r.sp.forEach((spikes, c) => {
    const hiAt = d3.scaleLinear().domain(iters).range(r.hi[c]);
    const loAt = d3.scaleLinear().domain(iters).range(r.lo[c]);
    gTc.append("g").selectAll("line").data(spikes).join("line")
      .attr("x1", d => xT(d[0])).attr("x2", d => xT(d[0]))
      .attr("y1", d => {
        const h = hiAt(d[0]), l = loAt(d[0]);
        let from;
        if (d[1] >= h) from = h;
        else if (d[1] <= l) from = l;
        else from = (h - d[1]) < (d[1] - l) ? h : l;
        return yT(from);
      })
      .attr("y2", d => yT(d[1]))
      .attr("stroke", chainColors[c])
      .attr("stroke-width", spikeWidth);
  });
  const axTx = gT.append("g").attr("transform", `translate(0,${bottom})`)
    .call(d3.axisBottom(xT).tickValues(traceTicksX).tickSize(8).tickPadding(6.5).tickSizeOuter(0).tickFormat(fmt));
  styleAxis(axTx);
  const axTy = gT.append("g").attr("transform", `translate(${rightRange[0]},0)`)
    .call(d3.axisLeft(yT).tickValues(r.tTicks).tickSize(8).tickPadding(7.5).tickSizeOuter(0).tickFormat(fmt));
  styleAxis(axTy);
  gT.append("text").attr("x", (rightRange[0] + rightRange[1]) / 2).attr("y", top - 15.5)
    .attr("text-anchor", "middle").attr("fill", "#1a1a1a").style("font-size", titleSize + "px")
    .text(params[i]);
});
</script>
</body>
</html>
